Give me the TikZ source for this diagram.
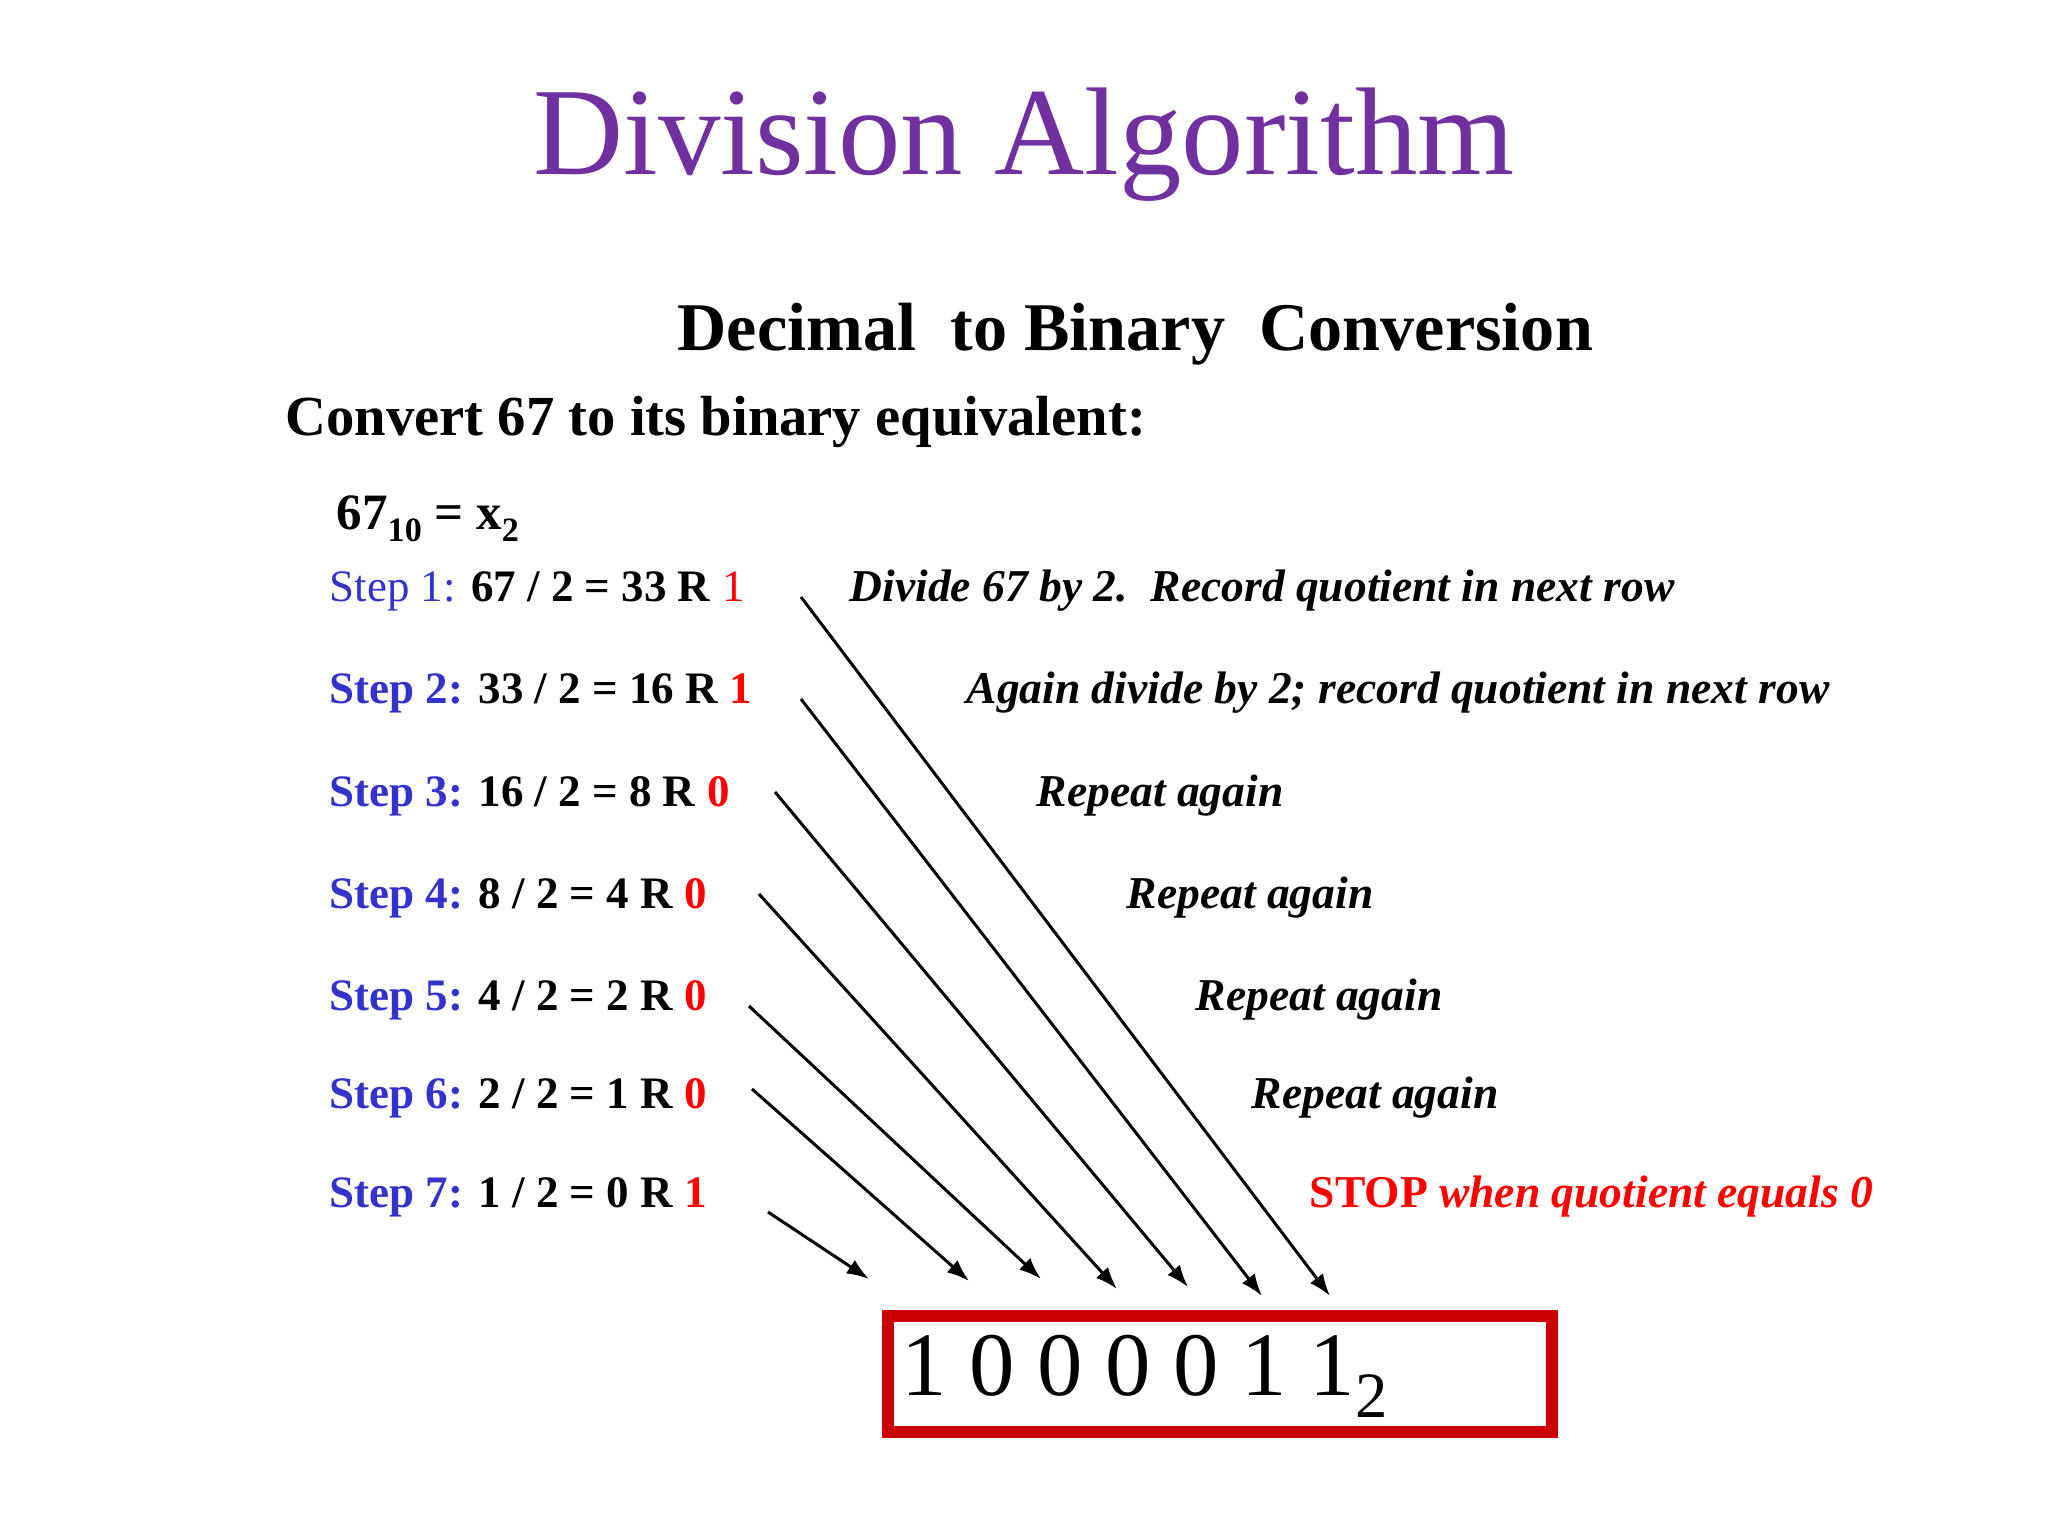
\documentclass[tikz,border=0pt]{standalone}
\usepackage{fontspec}
\setmainfont{Liberation Serif}
\usetikzlibrary{arrows.meta}
\definecolor{titlepurple}{RGB}{112,48,160}
\definecolor{stepblue}{RGB}{51,51,204}
\definecolor{remred}{RGB}{255,0,0}
\definecolor{boxred}{RGB}{204,0,0}
\tikzset{
  steptext/.style={anchor=base west, inner sep=0pt, font=\fontsize{12.8}{15}\selectfont},
  desctext/.style={anchor=base west, inner sep=0pt, font=\fontsize{12.95}{15}\selectfont\bfseries\itshape},
  conn/.style={line width=0.85pt, -{Latex[length=6.3pt,width=4.6pt]}},
}
\newcommand{\stepA}[1]{\textcolor{stepblue}{\bfseries Step #1:}}
\newcommand{\remv}[1]{\textcolor{remred}{\bfseries #1}}
\begin{document}
\begin{tikzpicture}[x=0.01cm,y=-0.01cm]
\useasboundingbox (0,0) rectangle (2048,1536);
\fill[white] (0,0) rectangle (2048,1536);

% title
\node[anchor=base, inner sep=0pt, text=titlepurple, font=\fontsize{35.5}{40}\selectfont] (title) at (1024,174) {Division Algorithm};
\node[anchor=base west, inner sep=0pt, font=\fontsize{19.4}{23}\selectfont\bfseries] (sub) at (677,350) {Decimal\ \ to Binary\ \ Conversion};
\node[anchor=base west, inner sep=0pt, font=\fontsize{16.1}{19}\selectfont\bfseries] (conv) at (285,435) {Convert 67 to its binary equivalent:};
\node[anchor=base west, inner sep=0pt, font=\fontsize{14.5}{17}\selectfont\bfseries] (eq) at (336,529)
  {67\raisebox{-0.12cm}{\fontsize{9.7}{11}\selectfont 10} = x\raisebox{-0.12cm}{\fontsize{9.7}{11}\selectfont 2}};

% steps
\node[steptext] (st1) at (329,601) {\textcolor{stepblue}{Step 1:} \textbf{67 / 2 = 33 R} \textcolor{remred}{1}};
\node[steptext] (st2) at (329,703) {\stepA{2} \textbf{33 / 2 = 16 R} \remv{1}};
\node[steptext] (st3) at (329,806) {\stepA{3} \textbf{16 / 2 = 8 R} \remv{0}};
\node[steptext] (st4) at (329,908) {\stepA{4} \textbf{8 / 2 = 4 R} \remv{0}};
\node[steptext] (st5) at (329,1010) {\stepA{5} \textbf{4 / 2 = 2 R} \remv{0}};
\node[steptext] (st6) at (329,1108) {\stepA{6} \textbf{2 / 2 = 1 R} \remv{0}};
\node[steptext] (st7) at (329,1207) {\stepA{7} \textbf{1 / 2 = 0 R} \remv{1}};

% descriptions
\node[desctext] (d1) at (849,601) {Divide 67 by 2.\ \ Record quotient in next row};
\node[desctext] (d2) at (966,703) {Again divide by 2; record quotient in next row};
\node[desctext] (d3) at (1036,806) {Repeat again};
\node[desctext] (d4) at (1126,908) {Repeat again};
\node[desctext] (d5) at (1195,1010) {Repeat again};
\node[desctext] (d6) at (1251,1108) {Repeat again};
\node[anchor=base west, inner sep=0pt, text=remred, font=\fontsize{12.95}{15}\selectfont\bfseries] (d7) at (1309,1207) {STOP \textit{when quotient equals 0}};

% result box
\node[draw=boxred, line width=3.4pt, minimum width=6.64cm, minimum height=1.16cm, inner sep=0pt] (box) at (1220,1374) {};
\node[anchor=base west, inner sep=0pt, font=\fontsize{25.8}{30}\selectfont] (res) at (901,1395)
  {1 0 0 0 0 1 1\raisebox{-0.22cm}{\fontsize{18.4}{21}\selectfont 2}};

% arrow endpoints
\coordinate (s1) at (801,597);  \coordinate (t1) at (1330,1296);
\coordinate (s2) at (801,699);  \coordinate (t2) at (1262,1296);
\coordinate (s3) at (775,792);  \coordinate (t3) at (1188,1287);
\coordinate (s4) at (759,894);  \coordinate (t4) at (1117,1289);
\coordinate (s5) at (749,1006); \coordinate (t5) at (1041,1279);
\coordinate (s6) at (752,1089); \coordinate (t6) at (969,1281);
\coordinate (s7) at (768,1212); \coordinate (t7) at (869,1279);

\foreach \i in {1,...,7} { \draw[conn] (s\i) -- (t\i); }
\end{tikzpicture}
\end{document}
